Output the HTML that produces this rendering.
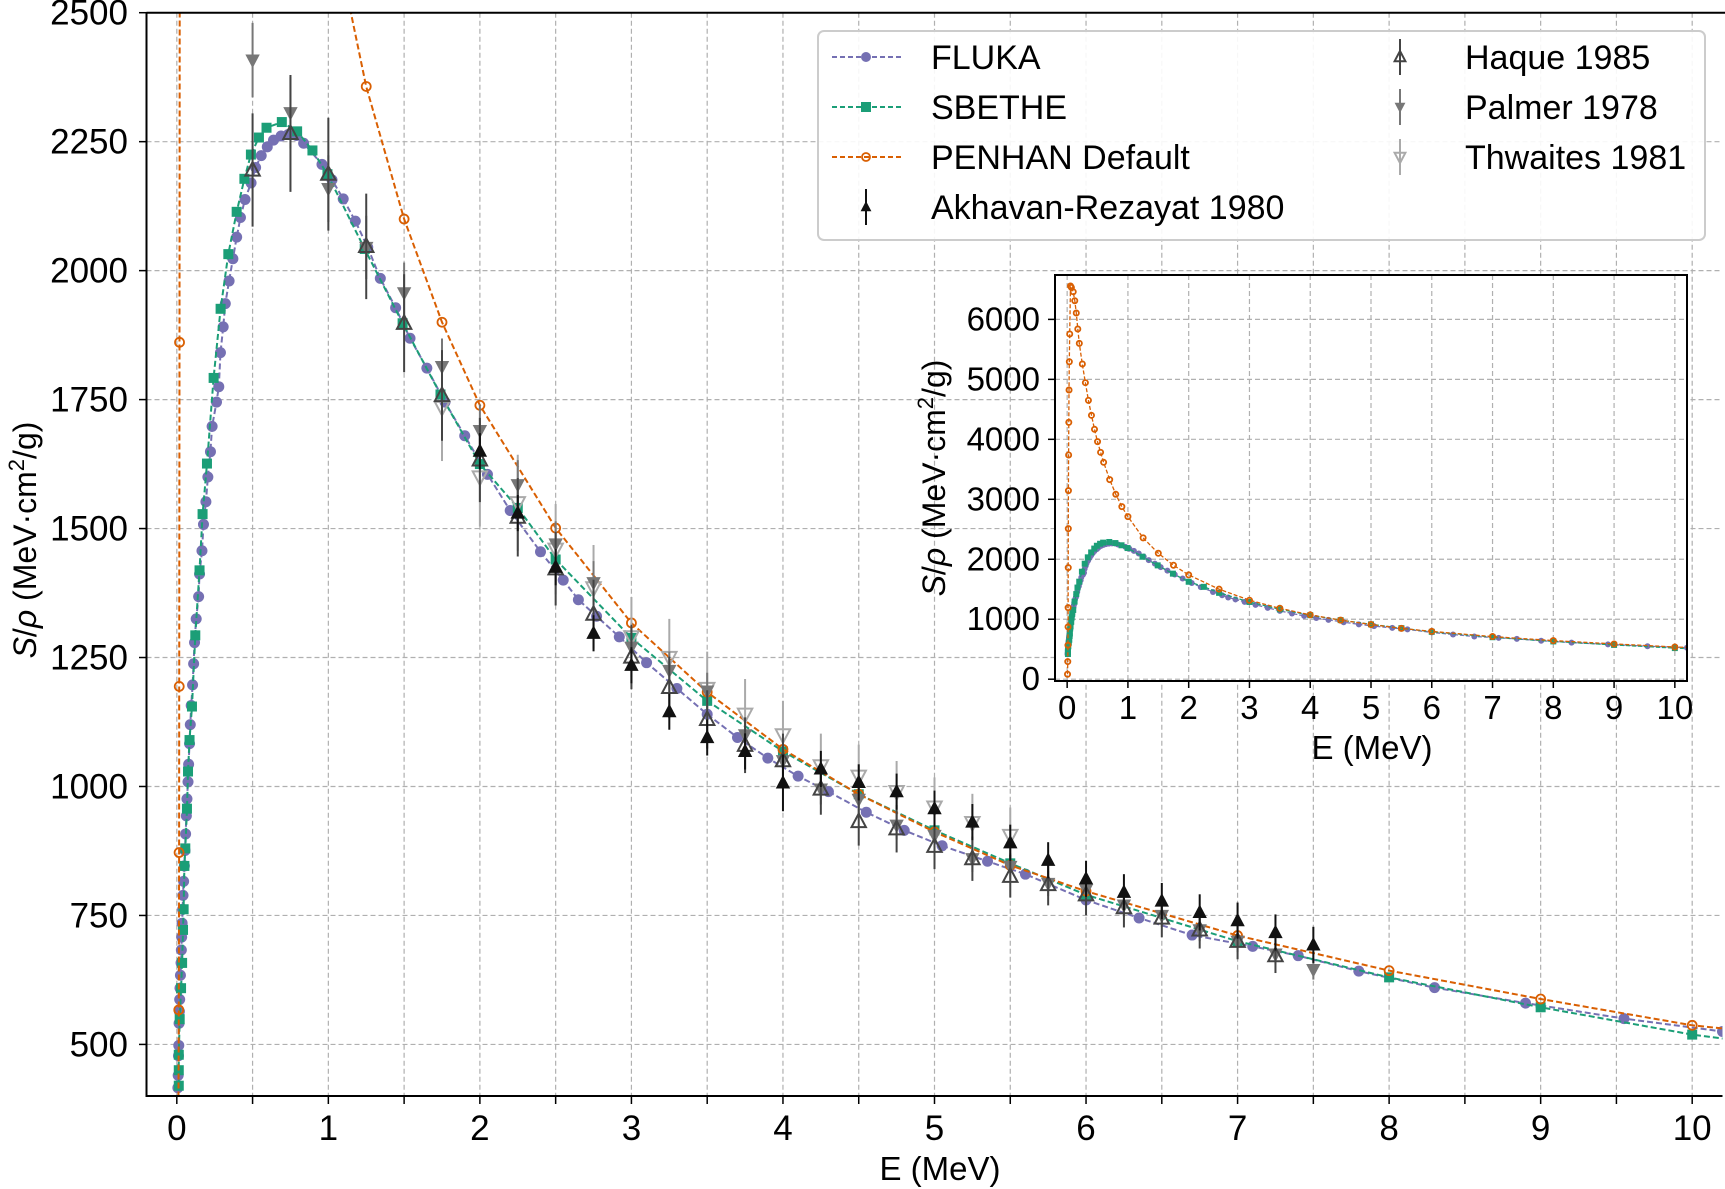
<!DOCTYPE html>
<html><head><meta charset="utf-8">
<style>
html,body{margin:0;padding:0;background:#fff;overflow:hidden;width:1725px;height:1189px;}
svg{display:block;font-family:"Liberation Sans",Arial,sans-serif;}
</style></head>
<body>
<svg id="chart" xmlns="http://www.w3.org/2000/svg" width="1725" height="1189" viewBox="0 0 1725 1189">
<defs>
<clipPath id="mainClip"><rect x="146.5" y="12.7" width="1576" height="1083.3"/></clipPath>
<clipPath id="insetClip"><rect x="1055" y="275" width="632" height="406"/></clipPath>
</defs>
<g id="mainGrid"></g>
<g id="mainSeries" clip-path="url(#mainClip)"></g>
<g id="mainAxes"></g>
<text transform="translate(36,540) rotate(-90)" text-anchor="middle" font-size="32"><tspan font-style="italic">S</tspan>/<tspan font-style="italic">ρ</tspan> (MeV·cm<tspan dy="-12" font-size="22">2</tspan><tspan dy="12">/g)</tspan></text>
<text x="940" y="1180" text-anchor="middle" font-size="33">E (MeV)</text>
<g id="legend"></g>
<g id="inset"></g>
<text transform="translate(945,478) rotate(-90)" text-anchor="middle" font-size="32"><tspan font-style="italic">S</tspan>/<tspan font-style="italic">ρ</tspan> (MeV·cm<tspan dy="-12" font-size="22">2</tspan><tspan dy="12">/g)</tspan></text>
<text x="1372" y="759" text-anchor="middle" font-size="33">E (MeV)</text>
</svg>
<script>
// ---- data ----
const flukaE = [0.007,0.009,0.011,0.013,0.015,0.017,0.019,0.021,0.024,0.028,0.030,0.032,0.035,0.039,0.041,0.045,0.050,0.054,0.058,0.063,0.067,0.074,0.078,0.084,0.089,0.095,0.104,0.111,0.117,0.128,0.144,0.150,0.166,0.176,0.192,0.205,0.222,0.233,0.262,0.277,0.288,0.306,0.32,0.345,0.37,0.395,0.42,0.45,0.49,0.52,0.557,0.597,0.638,0.688,0.736,0.79,0.837,0.958,1.024,1.098,1.178,1.26,1.343,1.444,1.539,1.65,1.77,1.9,2.05,2.2,2.4,2.55,2.65,2.77,2.92,3.1,3.3,3.5,3.7,3.9,4.1,4.3,4.55,4.8,5.05,5.35,5.6,6.0,6.35,6.7,7.1,7.4,7.8,8.3,8.9,9.55,10.2];
const flukaV = [416,440,478,498,541,564,587,609,634,658,683,708,735,762,789,816,846,876,908,943,976,1009,1043,1083,1120,1157,1197,1238,1279,1325,1368,1412,1457,1508,1552,1600,1649,1698,1745,1775,1841,1891,1936,1980,2023,2065,2103,2138,2170,2200,2223,2240,2253,2261,2264,2262,2247,2206,2176,2139,2096,2045,1985,1928,1869,1811,1745,1680,1605,1535,1455,1400,1362,1330,1290,1240,1190,1140,1095,1055,1020,990,950,915,885,855,830,780,745,712,690,672,642,610,580,550,525];
const sbetheE = [0.013,0.013,0.013,0.019,0.028,0.035,0.041,0.045,0.05,0.056,0.067,0.074,0.084,0.1,0.122,0.15,0.17,0.199,0.243,0.289,0.34,0.395,0.446,0.489,0.542,0.592,0.693,0.794,0.895,0.994,1.24,1.49,1.74,2.0,2.25,2.5,3.0,3.5,4.0,4.5,5.0,5.5,6.0,7.0,8.0,9.0,10.0,10.5];
const sbetheV = [420,450,480,549,609,658,722,762,846,880,957,1029,1090,1155,1293,1419,1528,1626,1792,1926,2032,2114,2178,2225,2258,2277,2288,2270,2233,2187,2042,1898,1760,1625,1540,1440,1288,1166,1068,985,915,851,790,700,630,572,519,500];
const penhanE = [0.006,0.01,0.013,0.015,0.016,0.018,0.019,0.021,0.024,0.027,0.031,0.036,0.042,0.055,0.07,0.1,0.125,0.15,0.175,0.2,0.25,0.3,0.35,0.4,0.45,0.5,0.55,0.6,0.7,0.8,0.9,1.0,1.25,1.5,1.75,2.0,2.5,3.0,3.5,4.0,4.5,5.0,5.5,6.0,7.0,8.0,9.0,10.0,10.5];
const penhanV = [83,294,567,872,1194,1861,2511,3144,3739,4283,4822,5294,5756,6556,6533,6460,6311,6106,5839,5600,5256,4944,4650,4400,4167,3961,3783,3617,3328,3083,2878,2711,2357,2100,1900,1739,1501,1317,1183,1072,985,912,847,797,711,643,588,537,522];
const akhE = [2.0,2.25,2.5,2.75,3.0,3.25,3.5,3.75,4.0,4.25,4.5,4.75,5.0,5.25,5.5,5.75,6.0,6.25,6.5,6.75,7.0,7.25,7.5];
const akhV = [1650,1530,1425,1297,1235,1145,1095,1068,1007,1034,1008,990,957,931,891,857,821,795,778,756,740,717,693];
const akhErr = [35,35,35,35,35,35,35,35,55,35,35,35,35,35,35,35,35,35,35,35,35,35,35];
const haqE = [0.5,0.75,1.0,1.25,1.5,1.75,2.0,2.25,2.5,2.75,3.0,3.25,3.5,3.75,4.0,4.25,4.5,4.75,5.0,5.25,5.5,5.75,6.0,6.25,6.5,6.75,7.0,7.25];
const haqV = [2195,2266,2187,2047,1898,1758,1633,1522,1422,1334,1251,1192,1130,1080,1050,995,932,918,884,860,826,810,790,765,745,722,700,672];
const palE = [0.5,0.75,1.0,1.25,1.5,1.75,2.0,2.25,2.5,2.75,3.0,3.25,3.5,3.75,4.0,4.25,4.5,4.75,5.0,5.25,5.5,5.75,6.0,6.25,6.5,6.75,7.0,7.25,7.5];
const palV = [2408,2306,2159,2045,1957,1814,1690,1585,1470,1395,1270,1225,1185,1100,1050,995,975,925,905,860,845,812,800,770,750,722,700,675,645];
const thwE = [1.75,2.0,2.25,2.5,2.75,3.0,3.25,3.5,3.75,4.0,4.25,4.5,4.75,5.0,5.25,5.5];
const thwV = [1735,1600,1550,1460,1385,1290,1250,1190,1140,1100,1040,1020,990,960,930,905];
const mainYTicks = [500,750,1000,1250,1500,1750,2000,2250,2500];
const mainXTicks = [0,1,2,3,4,5,6,7,8,9,10];
const insetYTicks = [0,1000,2000,3000,4000,5000,6000];
const insetXTicks = [0,1,2,3,4,5,6,7,8,9,10];

const NS = "http://www.w3.org/2000/svg";
function mk(tag, attrs, parent){const e=document.createElementNS(NS,tag);for(const k in attrs)e.setAttribute(k,attrs[k]);parent.appendChild(e);return e;}
function lin(d0,d1,r0,r1){return v=>r0+(v-d0)*(r1-r0)/(d1-d0);}

const C_F="#7570b3", C_S="#1b9e77", C_P="#d95f02";

// ---- main chart ----
const mx = lin(-0.2,10.2,146.5,1722.5);
const my = lin(400,2500,1096,12.7);
const grid = document.getElementById('mainGrid');
const axes = document.getElementById('mainAxes');
const ser = document.getElementById('mainSeries');

for(let t=0;t<=10.001;t+=0.5){
  const g=mk('line',{x1:mx(t),x2:mx(t),y1:12.7,y2:1096,stroke:'#b0b0b0','stroke-width':1.2,'stroke-dasharray':'5,3'},grid);
  
  
  const tk=mk('line',{x1:mx(t),x2:mx(t),y1:1096,y2:1104,stroke:'#000','stroke-width':1.5},axes);
  
  
}
mainXTicks.forEach(t=>{
  const l=mk('text',{x:mx(t),y:1140,'text-anchor':'middle','font-size':35},axes);
  l.textContent=t;
  
  
});
mainYTicks.forEach(t=>{
  const g=mk('line',{x1:146.5,x2:1722.5,y1:my(t),y2:my(t),stroke:'#b0b0b0','stroke-width':1.2,'stroke-dasharray':'5,3'},grid);
  
  
  const tk=mk('line',{x1:139,x2:146.5,y1:my(t),y2:my(t),stroke:'#000','stroke-width':1.5},axes);
  
  
  const l=mk('text',{x:128,y:my(t)+12,'text-anchor':'end','font-size':35},axes);
  l.textContent=t;
  
  
});
const frame=mk('path',{d:'M146.5,12.7 V1096 H1722.5 M146.5,12.7 H1725',fill:'none',stroke:'#000','stroke-width':2},axes);



function line(E,V,xs,ys,color,w,dash,parent,name){
  const d=E.map((e,i)=>(i?'L':'M')+xs(e).toFixed(1)+','+ys(V[i]).toFixed(1)).join(' ');
  const p=mk('path',{d:d,fill:'none',stroke:color,'stroke-width':w,'stroke-dasharray':dash},parent);
  
  
}
function marker(type,x,y,s,color,parent,name){
  let e;
  if(type==='circle') e=mk('circle',{cx:x,cy:y,r:s,fill:color},parent);
  else if(type==='ocircle') e=mk('circle',{cx:x,cy:y,r:s,fill:'none',stroke:color,'stroke-width':1.8},parent);
  else if(type==='square') e=mk('rect',{x:x-s,y:y-s,width:2*s,height:2*s,fill:color},parent);
  else if(type==='up'||type==='oup') e=mk('path',{d:`M${x},${y-s} L${x+s*0.9},${y+s*0.7} L${x-s*0.9},${y+s*0.7}Z`,fill:type==='up'?color:'none',stroke:color,'stroke-width':type==='up'?0:2},parent);
  else e=mk('path',{d:`M${x},${y+s} L${x+s*0.9},${y-s*0.7} L${x-s*0.9},${y-s*0.7}Z`,fill:type==='down'?color:'none',stroke:color,'stroke-width':type==='down'?0:2},parent);
  
  
}
function series(E,V,type,color,ms,xs,ys,w,dash,parent,name){
  line(E,V,xs,ys,color,w,dash,parent,name+'-line');
  E.forEach((e,i)=>marker(type,xs(e),ys(V[i]),ms,color,parent,name+'-point'));
}
series(flukaE,flukaV,'circle',C_F,5.5,mx,my,2,'6,3',ser,'fluka');
series(sbetheE,sbetheV,'square',C_S,5,mx,my,2,'6,3',ser,'sbethe');
series(penhanE,penhanV,'ocircle',C_P,4.5,mx,my,2,'6,3',ser,'penhan');

function expData(E,V,err,type,color,name){
  E.forEach((e,i)=>{
    const x=mx(e), y=V[i];
    const b=mk('line',{x1:x,x2:x,y1:my(y-err(i,y)),y2:my(y+err(i,y)),stroke:color,'stroke-width':2},ser);
    
    
    marker(type,x,my(y),8,color,ser,name+'-point');
  });
}
expData(thwE,thwV,(i,y)=>y*0.06,'odown','#aaaaaa','thwaites-1981');
expData(palE,palV,(i,y)=>y*0.03,'down','#777777','palmer-1978');
expData(haqE,haqV,(i,y)=>y*0.05,'oup','#444444','haque-1985');
expData(akhE,akhV,(i,y)=>akhErr[i],'up','#111111','akhavan-rezayat-1980');

// ---- legend ----
const lg=document.getElementById('legend');
mk('rect',{x:818,y:31,width:887,height:209,rx:6,fill:'#fff','fill-opacity':0.9,stroke:'#cccccc','stroke-width':2},lg);
const legLeft=[['FLUKA','circle',C_F],['SBETHE','square',C_S],['PENHAN Default','ocircle',C_P],['Akhavan-Rezayat 1980','up','#111111']];
const legRight=[['Haque 1985','oup','#444444'],['Palmer 1978','down','#777777'],['Thwaites 1981','odown','#aaaaaa']];
legLeft.forEach((it,i)=>{
  const y=57+i*50;
  if(i<3){
    const l=mk('line',{x1:832,x2:901,y1:y,y2:y,stroke:it[2],'stroke-width':2,'stroke-dasharray':'5,3'},lg);
    
    
    marker(it[1],866,y,it[1]==='ocircle'?4:5,it[2],lg,'legend-marker');
  } else {
    const b=mk('line',{x1:866,x2:866,y1:y-18,y2:y+18,stroke:it[2],'stroke-width':2},lg);
    
    
    marker(it[1],866,y,6,it[2],lg,'legend-marker');
  }
  const t=mk('text',{x:931,y:y+12,'font-size':34},lg);
  t.textContent=it[0];
  
  
});
legRight.forEach((it,i)=>{
  const y=57+i*50;
  const b=mk('line',{x1:1400,x2:1400,y1:y-18,y2:y+18,stroke:it[2],'stroke-width':2},lg);
  
  
  marker(it[1],1400,y,6,it[2],lg,'legend-marker');
  const t=mk('text',{x:1465,y:y+12,'font-size':34},lg);
  t.textContent=it[0];
  
  
});

// ---- inset ----
const ins=document.getElementById('inset');
const ix=lin(-0.2,10.2,1055,1687);
const iy=lin(-30,6740,681,275);
mk('rect',{x:1055,y:275,width:632,height:406,fill:'#fff'},ins);
insetXTicks.forEach(t=>{
  const g=mk('line',{x1:ix(t),x2:ix(t),y1:275,y2:681,stroke:'#b0b0b0','stroke-width':1.2,'stroke-dasharray':'5,3'},ins);
  
  
  const tk=mk('line',{x1:ix(t),x2:ix(t),y1:681,y2:688,stroke:'#000','stroke-width':1.5},ins);
  
  
  const l=mk('text',{x:ix(t),y:719,'text-anchor':'middle','font-size':33},ins);
  l.textContent=t;
  
  
});
insetYTicks.forEach(t=>{
  const g=mk('line',{x1:1055,x2:1687,y1:iy(t),y2:iy(t),stroke:'#b0b0b0','stroke-width':1.2,'stroke-dasharray':'5,3'},ins);
  
  
  const tk=mk('line',{x1:1048,x2:1055,y1:iy(t),y2:iy(t),stroke:'#000','stroke-width':1.5},ins);
  
  
  const l=mk('text',{x:1040,y:iy(t)+11,'text-anchor':'end','font-size':33},ins);
  l.textContent=t;
  
  
});
const isr=mk('g',{'clip-path':'url(#insetClip)'},ins);


series(flukaE,flukaV,'circle',C_F,3,ix,iy,1.3,'4,2',isr,'inset-fluka');
series(sbetheE,sbetheV,'square',C_S,3,ix,iy,1.3,'4,2',isr,'inset-sbethe');
series(penhanE,penhanV,'ocircle',C_P,2.6,ix,iy,1.3,'4,2',isr,'inset-penhan');
const ifr=mk('rect',{x:1055,y:275,width:632,height:406,fill:'none',stroke:'#000','stroke-width':2},ins);


</script>
</body></html>
